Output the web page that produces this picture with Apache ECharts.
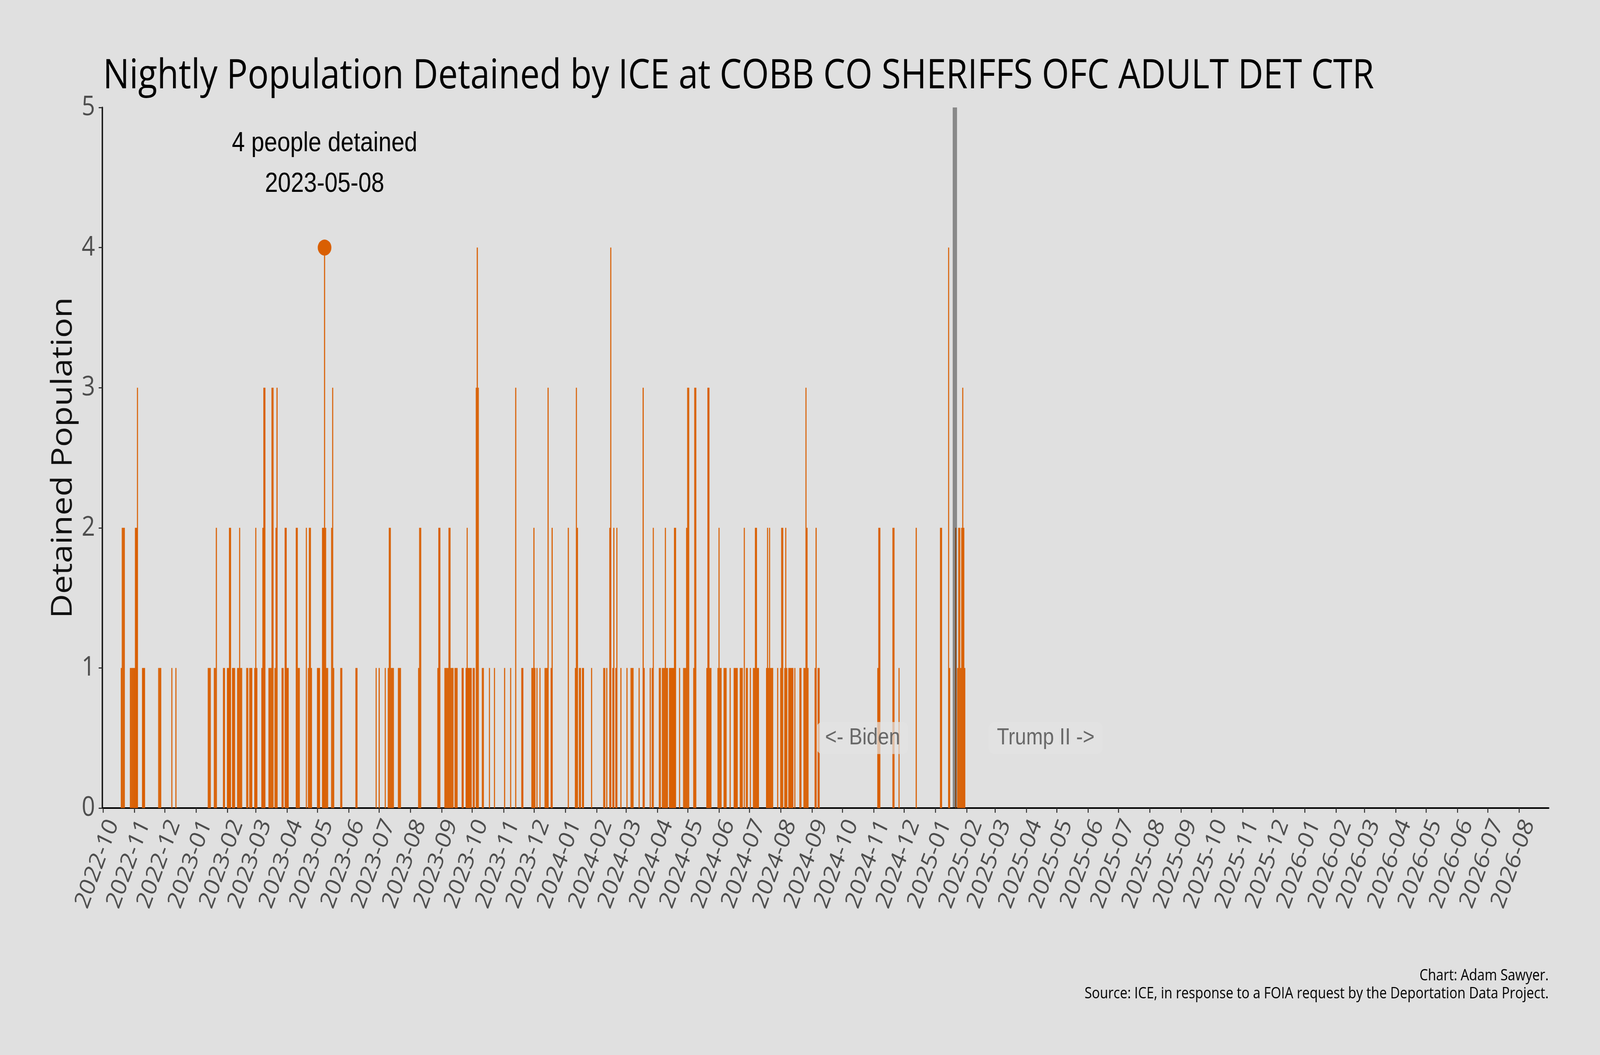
<!DOCTYPE html>
<html>
<head>
<meta charset="utf-8">
<script src="https://cdn.jsdelivr.net/npm/echarts@6/dist/echarts.min.js"></script>
<style>
html,body{margin:0;padding:0;background:#e0e0e0;overflow:hidden;width:100%;height:100%;}
#chart{width:4800px;height:2700px;transform-origin:0 0;}
</style>
</head>
<body>
<div id="chart"></div>
<script>
// ---------------- data ----------------
const titleText = 'Nightly Population Detained by ICE at COBB CO SHERIFFS OFC ADULT DET CTR';
const yAxisName = 'Detained Population';
const footerLines = ['Chart: Adam Sawyer.', 'Source: ICE, in response to a FOIA request by the Deportation Data Project.'];

const dates = [
'2022-10-19','2022-10-20','2022-10-21','2022-10-22','2022-10-28','2022-10-29','2022-10-30','2022-10-31',
'2022-11-01','2022-11-02','2022-11-03','2022-11-04','2022-11-09','2022-11-10','2022-11-11','2022-11-25','2022-11-26','2022-11-27',
'2022-12-08','2022-12-12',
'2023-01-13','2023-01-14','2023-01-15','2023-01-19','2023-01-20','2023-01-21','2023-01-28','2023-01-29',
'2023-02-01','2023-02-02','2023-02-03','2023-02-04','2023-02-06','2023-02-07','2023-02-08','2023-02-11','2023-02-12','2023-02-13','2023-02-14','2023-02-15','2023-02-20','2023-02-21','2023-02-23','2023-02-24','2023-02-25','2023-02-28',
'2023-03-01','2023-03-02','2023-03-07','2023-03-08','2023-03-09','2023-03-10','2023-03-14','2023-03-15','2023-03-16','2023-03-17','2023-03-18','2023-03-20','2023-03-21','2023-03-22','2023-03-27','2023-03-28','2023-03-30','2023-03-31',
'2023-04-01','2023-04-02','2023-04-10','2023-04-11','2023-04-12','2023-04-13','2023-04-20','2023-04-22','2023-04-23','2023-04-24','2023-04-25',
'2023-05-01','2023-05-02','2023-05-03','2023-05-06','2023-05-07','2023-05-08','2023-05-09','2023-05-10','2023-05-11','2023-05-15','2023-05-16','2023-05-17','2023-05-24','2023-05-25',
'2023-06-08','2023-06-09','2023-06-28',
'2023-07-01','2023-07-07','2023-07-10','2023-07-11','2023-07-12','2023-07-13','2023-07-14','2023-07-15','2023-07-20','2023-07-21','2023-07-22',
'2023-08-09','2023-08-10','2023-08-11','2023-08-28','2023-08-29','2023-08-30',
'2023-09-04','2023-09-05','2023-09-06','2023-09-07','2023-09-08','2023-09-09','2023-09-10','2023-09-11','2023-09-12','2023-09-14','2023-09-15','2023-09-16','2023-09-21','2023-09-22','2023-09-25','2023-09-26','2023-09-27','2023-09-28','2023-09-29','2023-09-30',
'2023-10-02','2023-10-03','2023-10-05','2023-10-06','2023-10-07','2023-10-11','2023-10-12','2023-10-18','2023-10-23',
'2023-11-02','2023-11-08','2023-11-13','2023-11-19','2023-11-20','2023-11-29','2023-11-30',
'2023-12-01','2023-12-02','2023-12-04','2023-12-07','2023-12-12','2023-12-13','2023-12-14','2023-12-15','2023-12-18','2023-12-19',
'2024-01-04','2024-01-11','2024-01-12','2024-01-13','2024-01-15','2024-01-16','2024-01-18','2024-01-19','2024-01-27',
'2024-02-08','2024-02-09','2024-02-11','2024-02-14','2024-02-15','2024-02-17','2024-02-18','2024-02-20','2024-02-21','2024-02-25',
'2024-03-02','2024-03-06','2024-03-07','2024-03-08','2024-03-14','2024-03-18','2024-03-19','2024-03-25','2024-03-27','2024-03-28',
'2024-04-03','2024-04-04','2024-04-06','2024-04-07','2024-04-08','2024-04-09','2024-04-10','2024-04-11','2024-04-13','2024-04-14','2024-04-15','2024-04-16','2024-04-17','2024-04-18','2024-04-19','2024-04-23','2024-04-27','2024-04-28','2024-04-29','2024-04-30',
'2024-05-01','2024-05-02','2024-05-07','2024-05-08','2024-05-09','2024-05-20','2024-05-21','2024-05-22','2024-05-23','2024-05-24','2024-05-31',
'2024-06-01','2024-06-02','2024-06-03','2024-06-06','2024-06-07','2024-06-08','2024-06-12','2024-06-16','2024-06-17','2024-06-18','2024-06-19','2024-06-22','2024-06-23','2024-06-24','2024-06-26','2024-06-28','2024-06-29',
'2024-07-02','2024-07-05','2024-07-06','2024-07-07','2024-07-08','2024-07-09','2024-07-10','2024-07-18','2024-07-19','2024-07-20','2024-07-21','2024-07-22','2024-07-23','2024-07-24','2024-07-29',
'2024-08-01','2024-08-02','2024-08-03','2024-08-05','2024-08-06','2024-08-07','2024-08-09','2024-08-10','2024-08-11','2024-08-12','2024-08-13','2024-08-15','2024-08-20','2024-08-21','2024-08-24','2024-08-25','2024-08-26','2024-08-27','2024-08-28',
'2024-09-04','2024-09-05','2024-09-07','2024-09-08',
'2024-11-05','2024-11-06','2024-11-07','2024-11-20','2024-11-21','2024-11-26',
'2024-12-13',
'2025-01-06','2025-01-07','2025-01-14','2025-01-15','2025-01-21','2025-01-23','2025-01-24','2025-01-25','2025-01-26','2025-01-27','2025-01-28','2025-01-29','2025-01-30'
];
const values = [
1,2,2,2,1,1,1,1,
1,2,2,3,1,1,1,1,1,1,
1,1,
1,1,1,1,1,2,1,1,
1,1,2,2,1,1,1,1,1,2,1,1,1,1,1,1,1,1,
2,1,1,2,3,3,1,1,1,3,3,1,2,3,1,1,2,2,
1,1,2,2,1,1,2,1,2,2,1,
1,1,1,2,2,4,2,1,1,2,3,1,1,1,
1,1,1,
1,1,1,2,2,1,1,1,1,1,1,
1,2,2,1,2,2,
1,1,1,1,2,2,1,1,1,1,1,1,1,1,1,2,1,1,1,1,
1,1,3,4,3,1,1,1,1,
1,1,3,1,1,1,1,
2,1,1,1,1,1,1,3,1,2,
2,1,3,2,1,1,1,1,1,
1,1,1,2,4,1,2,1,2,1,
1,1,1,1,1,3,1,1,1,2,
1,1,1,1,1,2,1,1,1,1,1,1,1,2,2,1,1,1,1,2,
3,3,1,3,3,1,3,3,1,1,1,
2,1,1,1,1,1,1,1,1,1,1,1,1,1,2,1,1,
1,1,1,2,2,1,1,1,2,1,2,1,1,1,1,
1,2,2,1,2,1,1,1,1,1,1,1,1,1,1,1,3,2,1,
1,2,1,1,
1,2,2,2,2,1,
2,
2,2,4,1,2,1,2,2,1,2,3,2,1
];
const yTicks = [0, 1, 2, 3, 4, 5];
const xRange = ['2022-09-30 19:00:00', '2026-08-29 19:00:00'];
const inaugurationDate = '2025-01-20';
const eraLabels = [
  { date: '2024-10-21', value: 0.5, text: '<- Biden' },
  { date: '2025-04-20', value: 0.5, text: 'Trump II ->' }
];

// ---------------- design is 4800 x 2700; fit it to the actual window ----------------
const el = document.getElementById('chart');
const kx = (window.innerWidth || 4800) / 4800, ky = (window.innerHeight || 2700) / 2700;
el.style.transform = 'scale(' + kx + ',' + ky + ')';

// ---------------- chart ----------------
const barData = dates.map((d, i) => [d, values[i]]);
let peakIdx = 0;
values.forEach((v, i) => { if (v > values[peakIdx]) peakIdx = i; });
const peakDate = dates[peakIdx], peakValue = values[peakIdx];

const ORANGE = '#d95f02';
const SEGOE = '"Open Sans", "Noto Sans", sans-serif';
const ARIAL = '"Liberation Sans", Arial, sans-serif';

function fmtMonth(v) {
  const d = new Date(v);
  return d.getFullYear() + '-' + String(d.getMonth() + 1).padStart(2, '0');
}

const chart = echarts.init(el, null, { renderer: 'canvas', width: 4800, height: 2700 });
chart.setOption({
  animation: false,
  backgroundColor: '#e0e0e0',
  title: {
    text: titleText,
    left: 309, top: 144, padding: 0,
    textStyle: { fontFamily: SEGOE, fontSize: 105, fontWeight: 'normal', color: '#000' }
  },
  grid: { left: 307, right: 154, top: 275, bottom: 632, containLabel: false, outerBoundsMode: 'none' },
  xAxis: {
    type: 'time',
    min: xRange[0], max: xRange[1],
    splitNumber: 46,
    minInterval: 28 * 86400000,
    maxInterval: 31 * 86400000,
    axisLine: { show: true, onZero: false, lineStyle: { color: '#000', width: 4 } },
    axisTick: { show: true, length: 12, lineStyle: { color: '#333', width: 3 } },
    splitLine: { show: false },
    axisLabel: {
      formatter: fmtMonth, rotate: 67, margin: 20, verticalAlign: 'top',
      fontFamily: SEGOE, fontSize: 64, color: '#4d4d4d', hideOverlap: false,
      showMinLabel: false, showMaxLabel: false
    }
  },
  yAxis: {
    type: 'value', min: yTicks[0], max: yTicks[yTicks.length - 1], interval: 1,
    name: yAxisName, nameLocation: 'middle', nameGap: 74,
    nameTextStyle: { fontFamily: SEGOE, fontSize: 86, color: '#111' },
    axisLine: { show: true, lineStyle: { color: '#111', width: 4 } },
    axisTick: { show: true, length: 11, lineStyle: { color: '#333', width: 3 } },
    splitLine: { show: false },
    axisLabel: { margin: 22, fontFamily: SEGOE, fontSize: 70, color: '#4d4d4d' }
  },
  series: [
    {
      name: 'detained', type: 'bar', data: barData, barWidth: 3.2,
      itemStyle: { color: ORANGE }, z: 2
    },
    {
      name: 'peak', type: 'scatter', data: [[peakDate, peakValue]],
      symbol: 'circle', symbolSize: 41, itemStyle: { color: ORANGE, opacity: 1 }, z: 3,
      label: {
        show: true, position: 'top', distance: 89,
        formatter: () => peakValue + ' people detained\n' + peakDate,
        fontFamily: ARIAL, fontSize: 70, lineHeight: 104, color: '#000', align: 'center'
      }
    },
    {
      name: 'eras', type: 'scatter', z: 5,
      data: eraLabels.map(e => ({ value: [e.date, e.value], text: e.text })),
      symbolSize: 1, itemStyle: { color: 'rgba(0,0,0,0)' },
      label: {
        show: true, position: 'inside',
        formatter: p => p.data.text,
        fontFamily: ARIAL, fontSize: 60, color: '#4a4a4a',
        backgroundColor: 'rgba(226,226,226,0.9)', borderRadius: 16,
        padding: [12, 25, 10, 25]
      },
      markLine: {
        silent: true, symbol: ['none', 'none'], label: { show: false },
        lineStyle: { color: 'rgba(0,0,0,0.39)', width: 13, type: 'solid' },
        data: [{ xAxis: inaugurationDate }]
      }
    }
  ],
  graphic: [
    {
      type: 'text', right: 154, top: 2475, z: 10,
      style: {
        text: footerLines.join('\n'), textAlign: 'right',
        fontFamily: SEGOE, fontSize: 40, lineHeight: 46, fill: '#000'
      }
    }
  ]
});
</script>
</body>
</html>
